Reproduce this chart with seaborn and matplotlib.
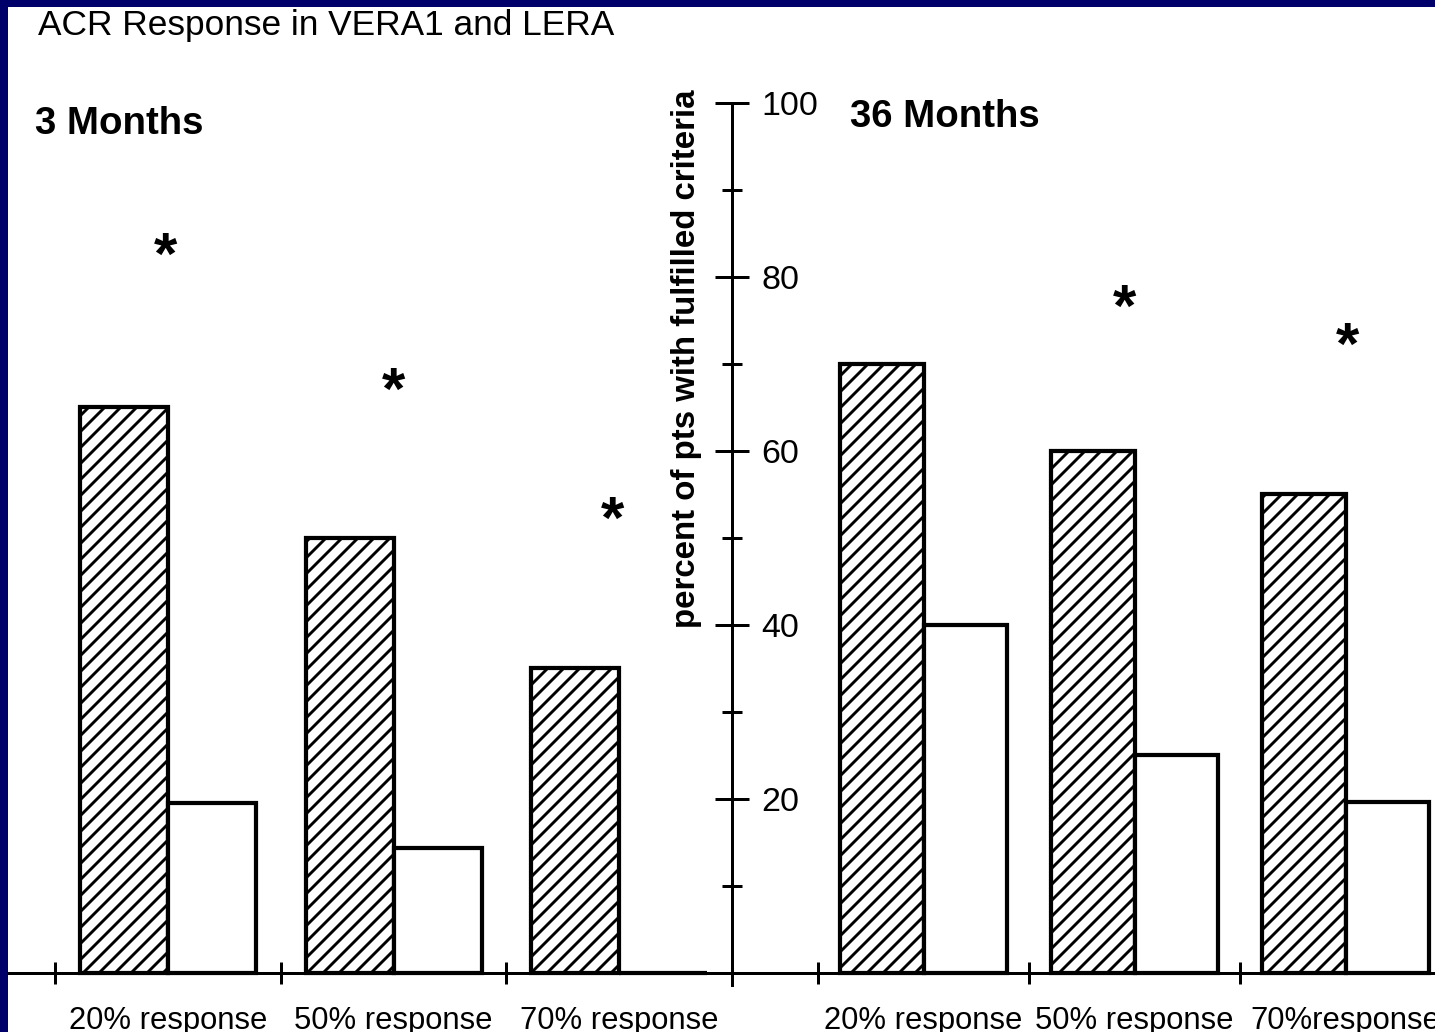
import pandas as pd
import matplotlib
matplotlib.use("Agg")
import matplotlib.pyplot as plt
import seaborn as sns
from matplotlib.patches import Rectangle

# =========================
# 1. Datos
# =========================
respuestas_3m = ["20% response", "50% response", "70% response"]
respuestas_36m = ["20% response", "50% response", "70%response"]
estudios = ["VERA1", "LERA"]

vera_3m = [65, 50, 35]
lera_3m = [19.5, 14.4, 0]
vera_36m = [70, 60, 55]
lera_36m = [40, 25, 19.7]

# asteriscos (altura en % ; None = sin asterisco)
asteriscos_3m = [83.3, 67.8, 53]
asteriscos_36m = [None, 77.4, 73]
desplaz_3m = [-0.01, 0.0, -0.03]
desplaz_36m = [0.0, -0.05, 0.01]

titulo = "ACR Response in VERA1 and LERA"
etiqueta_y = "percent of pts with fulfilled criteria"

sns.set_style("white")
plt.rcParams["font.family"] = ["Liberation Sans", "DejaVu Sans"]
plt.rcParams["hatch.linewidth"] = 1.45
plt.rcParams["hatch.color"] = "black"
for k in ["text.color", "axes.labelcolor", "xtick.color", "ytick.color"]:
    plt.rcParams[k] = "black"

DPI = 144
W, H = 1435, 1032
AZUL = "#00006b"


def tabla(cats, a, b):
    filas = []
    for c, va, vb in zip(cats, a, b):
        filas.append({"respuesta": c, "estudio": estudios[0], "pct": va})
        filas.append({"respuesta": c, "estudio": estudios[1], "pct": vb})
    return pd.DataFrame(filas)


df_3m = tabla(respuestas_3m, vera_3m, lera_3m)
df_36m = tabla(respuestas_36m, vera_36m, lera_36m)

fig = plt.figure(figsize=(W / DPI, H / DPI), dpi=DPI, facecolor=AZUL)
fig.patches.append(Rectangle((8 / W, 0), 1 - 8 / W, 1 - 7 / H, transform=fig.transFigure,
                             facecolor="white", edgecolor="none", zorder=-5))

y0 = (H - 985) / H
alto = (985 - 103) / H
ax_l = fig.add_axes([8 / W, y0, (732 - 8) / W, alto])
ax_r = fig.add_axes([732 / W, y0, (W - 732) / W, alto])


# =========================
# 2. Barras
# =========================
def dibujar(ax, df, ancho, estrellas, desplaz, xlim):
    sns.barplot(data=df, x="respuesta", y="pct", hue="estudio", hue_order=estudios,
                palette=["white", "white"], saturation=1, edgecolor="black",
                linewidth=2.1, width=ancho, errorbar=None, legend=False, ax=ax)
    for barra in ax.containers[0]:
        barra.set_hatch("///")
    for i, (h, d) in enumerate(zip(estrellas, desplaz)):
        if h is not None:
            # el glifo '*' queda alto: se baja un poco
            ax.text(i + d, h - 1.2, "*", ha="center", va="center", fontsize=30,
                    fontweight="bold", color="black")
    ax.set_facecolor("none")
    ax.set_xlim(*xlim)
    ax.set_ylim(-1.38, 100)
    ax.set_xlabel("")
    ax.set_ylabel("")
    for s in ["top", "left", "right"]:
        ax.spines[s].set_visible(False)
    ax.spines["bottom"].set_position(("data", 0))
    ax.spines["bottom"].set_linewidth(1.5)
    ax.spines["bottom"].set_color("black")
    ax.set_xticks([-0.5, 0.5, 1.5], minor=True)
    ax.tick_params(axis="x", which="both", bottom=True)
    ax.tick_params(axis="x", which="major", length=0, pad=16.5, labelsize=15.5)
    ax.tick_params(axis="x", which="minor", direction="inout", length=11,
                   width=1.5, color="black")


dibujar(ax_l, df_3m, 0.78, asteriscos_3m, desplaz_3m, (-0.71, 2.5))
dibujar(ax_r, df_36m, 0.79, asteriscos_36m, desplaz_36m, (-0.908, 2.424))

# eje y en el centro (borde derecho del panel izquierdo)
ax_l.spines["right"].set_visible(True)
ax_l.spines["right"].set_linewidth(1.5)
ax_l.spines["right"].set_color("black")
ax_l.yaxis.tick_right()
ax_l.set_yticks([20, 40, 60, 80, 100])
ax_l.set_yticks([10, 30, 50, 70, 90], minor=True)
ax_l.tick_params(axis="y", which="both", right=True)
ax_l.tick_params(axis="y", which="major", direction="inout", length=17, width=1.5,
                 pad=6, labelsize=17, color="black")
ax_l.tick_params(axis="y", which="minor", direction="inout", length=10, width=1.5,
                 color="black")
ax_l.set_ylabel(etiqueta_y, fontsize=16.5, fontweight="bold", rotation=90)
ax_l.yaxis.set_label_coords((686 - 8) / (732 - 8), (985 - 359) / (985 - 103))
ax_l.yaxis.label.set_ha("center")
ax_l.yaxis.label.set_va("center")
ax_r.set_yticks([])

# =========================
# 3. Textos
# =========================
fig.text(38 / W, 1 - 35 / H, titulo, fontsize=17.6, ha="left", va="baseline")
fig.text(35 / W, 1 - 134 / H, "3 Months", fontsize=19.2, fontweight="bold",
         ha="left", va="baseline")
fig.text(850 / W, 1 - 127 / H, "36 Months", fontsize=19.2, fontweight="bold",
         ha="left", va="baseline")

fig.savefig("out.png", dpi=DPI, facecolor=AZUL)
plt.close(fig)
